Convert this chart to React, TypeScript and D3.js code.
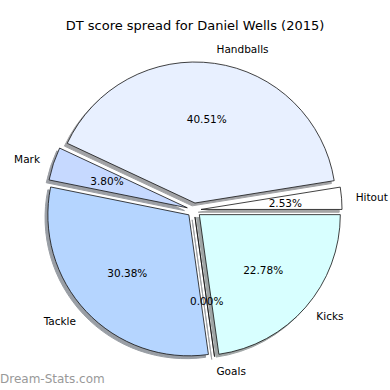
import React from "react";
import * as d3 from "d3";

// counter-clockwise from 3 o'clock, as matplotlib lays them out
const labels = ["Hitout", "Handballs", "Mark", "Tackle", "Goals", "Kicks"];
const points = [2, 32, 3, 24, 0, 18];
const pctText = ["2.53%", "40.51%", "3.80%", "30.38%", "0.00%", "22.78%"];
const colors = ["#ffffff", "#e8f0ff", "#c6d9ff", "#b5d5ff", "#ddeeff", "#d8ffff"];

const title = "DT score spread for Daniel Wells (2015)";
const watermark = "Dream-Stats.com";

export default function App() {
  const width = 390;
  const height = 390;
  const cx = 194;
  const cy = 210;
  const r = 141;
  const explode = 0.05 * r;
  const font = "'DejaVu Sans', sans-serif";

  const pie = d3
    .pie<number>()
    .sort(null)
    .value(d => d)
    .startAngle(Math.PI / 2)
    .endAngle(Math.PI / 2 - 2 * Math.PI);
  const arcs = pie(points);
  const arc = d3.arc<d3.PieArcDatum<number>>().innerRadius(0).outerRadius(r);

  const offset = (a: number, dist: number) => [Math.sin(a) * dist, -Math.cos(a) * dist];

  const shadowFill = (c: string) => {
    const rgb = d3.rgb(c);
    return d3.rgb(rgb.r * 0.3, rgb.g * 0.3, rgb.b * 0.3).formatHex();
  };

  return (
    <svg
      width={width}
      height={height}
      style={{ position: "absolute", left: 0, top: 0, background: "#fff" }}
      fontFamily={font}
    >
      <text x={195} y={25} textAnchor="middle" dominantBaseline="central" fontSize={13} fill="#000">
        {title}
      </text>
      <g transform={`translate(${cx},${cy})`}>
        {arcs.map((d, i) => {
          const mid = (d.startAngle + d.endAngle) / 2;
          const [ox, oy] = offset(mid, explode);
          return (
            <path
              key={"s" + i}
              d={arc(d) || ""}
              transform={`translate(${ox - 0.02 * r},${oy + 0.02 * r})`}
              fill={shadowFill(colors[i])}
              stroke={shadowFill(colors[i])}
              strokeWidth={1}
              opacity={0.5}
            />
          );
        })}
        {arcs.map((d, i) => {
          const mid = (d.startAngle + d.endAngle) / 2;
          const [ox, oy] = offset(mid, explode);
          return (
            <path
              key={"w" + i}
              d={arc(d) || ""}
              transform={`translate(${ox},${oy})`}
              fill={colors[i]}
              stroke="#111"
              strokeWidth={0.8}
              strokeLinejoin="round"
            />
          );
        })}
        {arcs.map((d, i) => {
          const mid = (d.startAngle + d.endAngle) / 2;
          const [lx, ly] = offset(mid, 1.1 * r + explode);
          const [px, py] = offset(mid, 0.6 * r + explode);
          return (
            <g key={"t" + i} fontSize={10.5} fill="#000">
              <text x={lx} y={ly} textAnchor={lx > 0 ? "start" : "end"} dominantBaseline="central">
                {labels[i]}
              </text>
              <text x={px} y={py} textAnchor="middle" dominantBaseline="central">
                {pctText[i]}
              </text>
            </g>
          );
        })}
      </g>
      <text x={0} y={379} dominantBaseline="central" fontSize={12} fill="#999999">
        {watermark}
      </text>
    </svg>
  );
}
